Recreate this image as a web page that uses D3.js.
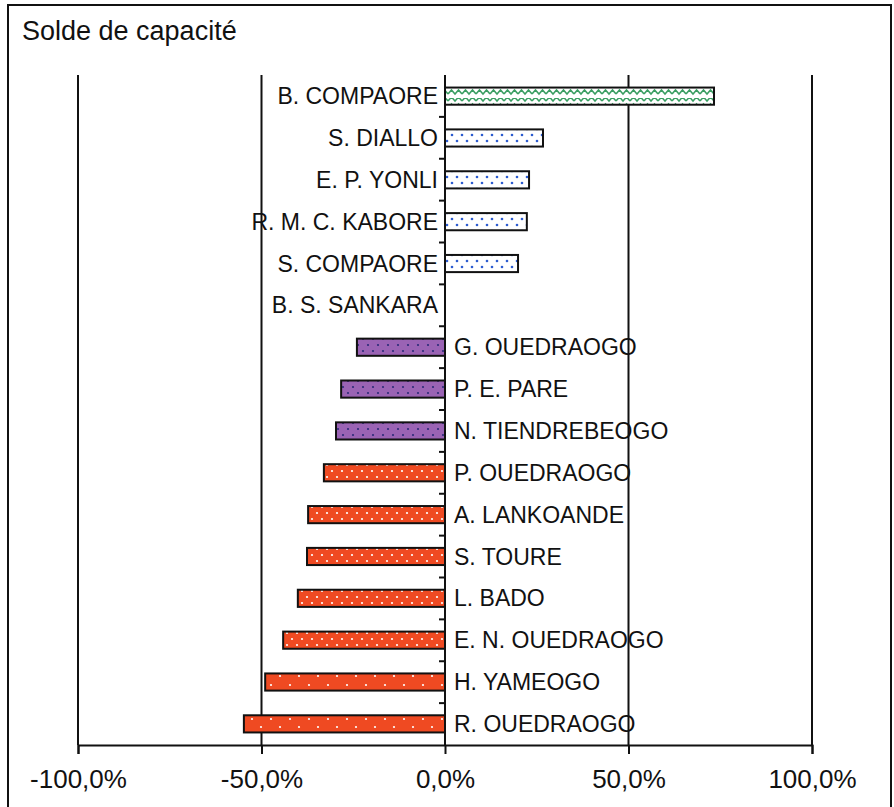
<!DOCTYPE html>
<html lang="fr">
<head>
<meta charset="UTF-8">
<title>Solde de capacité</title>
<script src="https://d3js.org/d3.v7.min.js"></script>
<style>
  body { margin: 0; background: #fff; }
  text { font-family: "Liberation Sans", Arial, sans-serif; fill: #111; }
</style>
</head>
<body>
<div id="chart"></div>
<script>
// chart data
var names = ["B. COMPAORE", "S. DIALLO", "E. P. YONLI", "R. M. C. KABORE", "S. COMPAORE",
  "B. S. SANKARA", "G. OUEDRAOGO", "P. E. PARE", "N. TIENDREBEOGO", "P. OUEDRAOGO",
  "A. LANKOANDE", "S. TOURE", "L. BADO", "E. N. OUEDRAOGO", "H. YAMEOGO", "R. OUEDRAOGO"];
var values = [73.3, 26.7, 22.9, 22.3, 19.9, 0, -24.0, -28.3, -29.7, -33.0,
  -37.3, -37.6, -40.1, -44.1, -49.0, -54.8];
var groups = ["green", "blue", "blue", "blue", "blue", "blue", "purple", "purple", "purple",
  "orange", "orange", "orange", "orange", "orange", "orangeB", "orangeB"];
var tickValues = [-100, -50, 0, 50, 100];

var W = 894, H = 807;
var margin = {top: 75, left: 78, right: 82, bottom: 62};

var svg = d3.select("#chart").append("svg")
    .attr("width", W)
    .attr("height", H);

var defs = svg.append("defs");

// hatch patterns
var pg = defs.append("pattern").attr("id", "green")
    .attr("patternUnits", "userSpaceOnUse").attr("width", 14).attr("height", 14);
pg.append("rect").attr("width", 14).attr("height", 14).attr("fill", "#fff");
pg.append("path").attr("d", "M0,10 L3.5,6 L7,10 L10.5,6 L14,10 M0,3 L3.5,-1 L7,3 L10.5,-1 L14,3")
    .attr("fill", "none").attr("stroke", "#3a9e62").attr("stroke-width", 1.5);

var pb = defs.append("pattern").attr("id", "blue")
    .attr("patternUnits", "userSpaceOnUse").attr("width", 10).attr("height", 12);
pb.append("rect").attr("width", 10).attr("height", 12).attr("fill", "#fff");
pb.append("circle").attr("cx", 2).attr("cy", 3).attr("r", 1.3).attr("fill", "#2c5cd0");
pb.append("circle").attr("cx", 7).attr("cy", 9).attr("r", 1.3).attr("fill", "#2c5cd0");

var pp = defs.append("pattern").attr("id", "purple")
    .attr("patternUnits", "userSpaceOnUse").attr("width", 10).attr("height", 12);
pp.append("rect").attr("width", 10).attr("height", 12).attr("fill", "#9a63b4");
pp.append("circle").attr("cx", 3).attr("cy", 3).attr("r", 1.1).attr("fill", "#2b2a78");
pp.append("circle").attr("cx", 8).attr("cy", 9).attr("r", 1.1).attr("fill", "#2b2a78");

var po = defs.append("pattern").attr("id", "orange")
    .attr("patternUnits", "userSpaceOnUse").attr("width", 10).attr("height", 12);
po.append("rect").attr("width", 10).attr("height", 12).attr("fill", "#ef4a22");
po.append("circle").attr("cx", 2).attr("cy", 3).attr("r", 1.1).attr("fill", "#fff");
po.append("circle").attr("cx", 7).attr("cy", 9).attr("r", 1.1).attr("fill", "#fff");

var po2 = defs.append("pattern").attr("id", "orangeB")
    .attr("patternUnits", "userSpaceOnUse").attr("width", 19).attr("height", 17);
po2.append("rect").attr("width", 19).attr("height", 17).attr("fill", "#ef4a22");
po2.append("circle").attr("cx", 5).attr("cy", 5).attr("r", 1.1).attr("fill", "#fff");
po2.append("circle").attr("cx", 14).attr("cy", 13).attr("r", 1.1).attr("fill", "#fff");

// outer frame
svg.append("rect")
    .attr("x", 8).attr("y", 5)
    .attr("width", 883).attr("height", 820)
    .attr("fill", "none").attr("stroke", "#111").attr("stroke-width", 2);

svg.append("text")
    .attr("x", 22).attr("y", 40)
    .style("font-size", "27px")
    .text("Solde de capacité");

// scales
var x = d3.scaleLinear()
    .domain([-100, 100])
    .range([margin.left, W - margin.right]);

var y = d3.scaleBand()
    .domain(names)
    .range([margin.top, H - margin.bottom])
    .paddingInner(0.59)
    .paddingOuter(0.3);

var yTop = margin.top, yBot = H - margin.bottom;

// vertical gridlines
svg.append("g").selectAll("line")
  .data(tickValues.filter(function(d) { return d != 0; }))
  .enter().append("line")
    .attr("x1", function(d) { return x(d); })
    .attr("x2", function(d) { return x(d); })
    .attr("y1", yTop).attr("y2", yBot)
    .attr("stroke", "#111").attr("stroke-width", 2);

// bars
svg.append("g").selectAll("rect")
  .data(values)
  .enter().append("rect")
    .attr("x", function(d) { return x(Math.min(0, d)); })
    .attr("y", function(d, i) { return y(names[i]); })
    .attr("width", function(d) { return Math.abs(x(d) - x(0)); })
    .attr("height", y.bandwidth())
    .attr("fill", function(d, i) { return "url(#" + groups[i] + ")"; })
    .attr("stroke", "#111")
    .attr("stroke-width", function(d) { return d == 0 ? 0 : 2; });

// x axis
var xAxis = svg.append("g")
    .attr("transform", "translate(0," + yBot + ")")
    .call(d3.axisBottom(x)
      .tickValues(tickValues)
      .tickSize(9)
      .tickFormat(function(d) { return d3.format(".1f")(d).replace("−", "-").replace(".", ",") + "%"; }));
xAxis.select(".domain").attr("stroke", "#111").attr("stroke-width", 2);
xAxis.selectAll(".tick line").attr("stroke", "#111").attr("stroke-width", 2);
xAxis.selectAll(".tick text")
    .attr("y", 25)
    .style("font-size", "26px")
    .style("font-family", "'Liberation Sans', Arial, sans-serif")
    .attr("fill", "#111");

// category axis at zero, ticks between bands
var bounds = d3.range(names.length + 1).map(function(i) { return yTop + i * (yBot - yTop) / names.length; });
var cat = svg.append("g");
cat.append("line")
    .attr("x1", x(0)).attr("x2", x(0))
    .attr("y1", yTop).attr("y2", yBot)
    .attr("stroke", "#111").attr("stroke-width", 2);
cat.selectAll(".ct")
  .data(bounds.slice(1, -1))
  .enter().append("line")
    .attr("x1", x(0) - 6).attr("x2", x(0))
    .attr("y1", function(d) { return d; })
    .attr("y2", function(d) { return d; })
    .attr("stroke", "#111").attr("stroke-width", 2);

// category labels: left of axis for positive, right for negative
cat.selectAll("text")
  .data(names)
  .enter().append("text")
    .attr("x", function(d, i) { return values[i] >= 0 ? x(0) - 7 : x(0) + 9; })
    .attr("y", function(d) { return y(d) + y.bandwidth() / 2 + 2; })
    .attr("dominant-baseline", "middle")
    .attr("text-anchor", function(d, i) { return values[i] >= 0 ? "end" : "start"; })
    .style("font-size", "23px")
    .text(function(d) { return d; });
</script>
</body>
</html>
